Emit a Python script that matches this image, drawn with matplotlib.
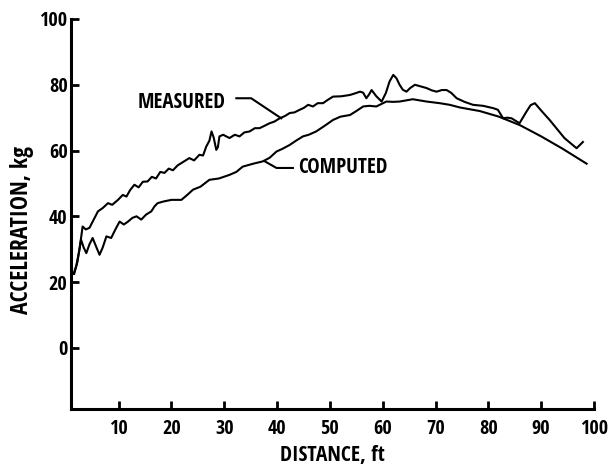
import os
import matplotlib
matplotlib.use("Agg")
import matplotlib.pyplot as plt
from matplotlib import font_manager

# =======================
# Datos
# =======================
medido_x = [1.6, 2.2, 2.7, 3.2, 3.8, 4.5, 5.3, 6.1, 7.0, 8.0, 8.8, 9.9,
            10.8, 11.5, 12.2, 13.0, 13.8, 14.6, 15.5, 16.3, 17.1, 17.9, 18.7,
            19.5, 20.3, 21.2, 22.2, 23.4, 24.3, 25.3, 26.0, 26.6, 27.2, 27.6,
            28.0, 28.5, 28.8, 29.1, 29.8, 31.0, 32.0, 32.9, 33.8, 34.8, 35.8,
            36.7, 37.6, 38.6, 39.5, 40.5, 41.5, 42.4, 43.3, 44.3, 45.1, 45.9,
            46.8, 47.7, 48.7, 49.6, 50.6, 52.2, 53.8, 54.8, 55.7, 56.3, 56.9,
            57.4, 57.9, 58.8, 59.8, 60.6, 61.3, 62.0, 62.6, 63.2, 63.8, 64.5,
            65.2, 66.1, 67.2, 68.3, 69.3, 70.2, 71.2, 72.1, 73.0, 74.0, 75.5,
            77.1, 79.0, 80.9, 81.8, 82.8, 83.6, 84.4, 85.9, 87.2, 88.0, 88.8,
            90.2, 91.6, 94.4, 96.7, 97.9]
medido_y = [22.5, 26.0, 31.0, 36.9, 36.0, 36.5, 39.0, 41.5, 42.5, 44.0, 43.5, 45.0,
            46.5, 46.0, 48.0, 49.6, 48.8, 50.5, 50.6, 52.0, 51.5, 53.5, 53.2,
            54.5, 54.0, 55.5, 56.5, 57.7, 57.0, 58.7, 58.5, 61.2, 63.0, 65.8,
            64.0, 60.2, 61.0, 64.3, 64.8, 63.8, 64.8, 64.3, 65.5, 65.8, 66.8,
            66.8, 67.5, 68.3, 68.8, 69.8, 70.5, 71.4, 71.6, 72.4, 73.0, 73.9,
            73.4, 74.4, 74.4, 75.4, 76.4, 76.5, 76.9, 77.4, 77.9, 77.6, 75.9,
            77.0, 78.4, 76.5, 74.9, 77.5, 81.0, 83.0, 82.0, 80.0, 78.5, 77.9,
            79.0, 80.0, 79.5, 79.0, 78.3, 77.9, 78.4, 78.4, 77.5, 75.9, 74.8,
            73.9, 73.6, 72.9, 72.4, 69.8, 70.0, 69.8, 68.3, 71.8, 73.8, 74.4,
            71.8, 69.3, 63.8, 60.7, 62.6]

calculado_x = [1.5, 2.0, 2.5, 2.9, 3.4, 3.9, 4.5, 5.1, 5.7, 6.4, 7.0, 7.7, 8.6,
               9.4, 10.2, 11.0, 11.8, 12.6, 13.4, 14.3, 15.2, 16.2, 16.8, 17.4,
               18.5, 20.0, 21.9, 23.0, 24.1, 25.5, 27.2, 29.0, 31.0, 32.3, 33.5,
               35.5, 37.3, 38.6, 39.9, 41.0, 42.4, 43.6, 44.9, 46.0, 47.4, 49.0,
               50.6, 52.0, 53.8, 55.0, 56.3, 57.5, 58.8, 60.7, 62.0, 63.2, 65.7,
               68.3, 70.8, 72.7, 74.6, 78.4, 82.0, 86.0, 90.0, 94.0, 98.6]
calculado_y = [22.5, 25.0, 29.0, 32.9, 30.5, 28.8, 31.5, 33.4, 31.0, 28.3, 30.5, 33.9, 33.4,
               36.0, 38.4, 37.5, 38.4, 39.5, 40.0, 39.0, 40.5, 41.5, 43.0, 44.0,
               44.5, 45.0, 45.0, 46.5, 48.1, 49.0, 51.1, 51.5, 52.6, 53.5, 55.1,
               56.0, 56.7, 57.8, 59.7, 60.5, 61.7, 63.0, 64.3, 64.8, 65.8, 67.5,
               69.3, 70.3, 70.8, 72.0, 73.4, 73.6, 73.4, 74.9, 74.8, 74.9, 75.6,
               74.9, 74.4, 73.9, 73.1, 72.0, 70.3, 67.7, 64.3, 60.6, 56.0]

ticks_x = [10, 20, 30, 40, 50, 60, 70, 80, 90, 100]
ticks_y = [0, 20, 40, 60, 80, 100]


# =======================
# Fuente estrecha y negrita (si hay)
# =======================
preferidas = ['NotoSans-ExtraCondensedBold', 'NotoSans-CondensedBold',
              'OpenSans-CondBold', 'OpenSans_Condensed-Bold',
              'LiberationSansNarrow-Bold', 'DejaVuSansCondensed-Bold']
archivos = {os.path.splitext(os.path.basename(f.fname))[0]: f.fname
            for f in font_manager.fontManager.ttflist}
ruta = None
for nombre in preferidas:
    if nombre in archivos:
        ruta = archivos[nombre]
        break
if ruta is None:
    ruta = font_manager.findfont(font_manager.FontProperties(family='DejaVu Sans', weight='bold'))


def fuente(tam):
    return font_manager.FontProperties(fname=ruta, size=tam)


fig = plt.figure(figsize=(6.08, 4.73), dpi=100)
ax = fig.add_axes([71 / 608, 1 - 409 / 473, (594 - 71) / 608, (409 - 19) / 473])

ax.plot(medido_x, medido_y, color='black', lw=1.5)
ax.plot(calculado_x, calculado_y, color='black', lw=1.5)

ax.set_xlim(1, 100)
ax.set_ylim(-18.6, 100)
ax.set_xticks(ticks_x)
ax.set_yticks(ticks_y)

for lado in ['top', 'right']:
    ax.spines[lado].set_visible(False)
for lado in ['left', 'bottom']:
    ax.spines[lado].set_linewidth(2.2)

ax.tick_params(axis='both', direction='in', length=6, width=2)
ax.tick_params(axis='x', pad=7)
ax.tick_params(axis='y', pad=2.5)
for lab in ax.get_xticklabels() + ax.get_yticklabels():
    lab.set_fontproperties(fuente(14.5))

ax.set_xlabel("DISTANCE, ft", fontproperties=fuente(15.5))
ax.set_ylabel("ACCELERATION, kg", fontproperties=fuente(17))
ax.xaxis.set_label_coords(0.5, -0.092)
ax.yaxis.set_label_coords(-0.07, 0.46)

# Rótulos con línea guía
ax.text(22.0, 74.6, "MEASURED", fontproperties=fuente(15),
        ha='center', va='center')
ax.plot([32.3, 35.1, 40.8], [75.9, 75.9, 69.8], color='black', lw=1.5)

ax.text(44.0, 54.7, "COMPUTED", fontproperties=fuente(15),
        ha='left', va='center')
ax.plot([37.7, 39.9, 43.0], [56.7, 54.7, 54.7], color='black', lw=1.5)

fig.savefig("out.png", dpi=100)
